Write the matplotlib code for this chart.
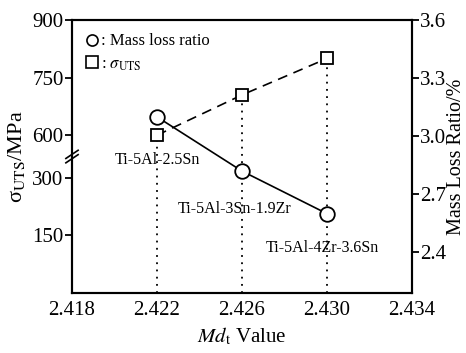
import matplotlib
matplotlib.use("Agg")
import matplotlib.pyplot as plt
from matplotlib.lines import Line2D

plt.rcParams['font.family'] = ['Liberation Serif', 'DejaVu Serif']
plt.rcParams['mathtext.fontset'] = 'stix'

# Data
md_values = [2.422, 2.426, 2.430]
uts_mpa = [600, 705, 800]
mass_loss = [3.10, 2.82, 2.60]
alloys = ["Ti-5Al-2.5Sn", "Ti-5Al-3Sn-1.9Zr", "Ti-5Al-4Zr-3.6Sn"]
x_ticks = [2.418, 2.422, 2.426, 2.430, 2.434]
left_ticks = [150, 300, 600, 750, 900]
right_ticks = [2.4, 2.7, 3.0, 3.3, 3.6]

# broken left axis mapping (0-300 and 600-900)
BREAK_LO, BREAK_HI, GAP = 300, 600, 111
def fwd(v):
    return v if v <= BREAK_LO else v - BREAK_HI + BREAK_LO + GAP

fig = plt.figure(figsize=(4.66, 3.53), dpi=100)
ax1 = fig.add_axes([0.1545, 0.170, 0.7295, 0.773])
ax2 = ax1.twinx()

ax1.set_xlim(2.418, 2.434)
ax1.set_ylim(0, fwd(900))
ax2.set_ylim(2.19, 3.6)

lw_sp = 1.5
for ax in (ax1, ax2):
    for s in ax.spines.values():
        s.set_linewidth(lw_sp)

# dotted droplines
for x, u in zip(md_values, uts_mpa):
    ax1.plot([x, x], [0, fwd(u)], linestyle=(0, (1, 3)), color='black', lw=1.3, zorder=1)

# UTS dashed line with squares
ax1.plot(md_values, [fwd(u) for u in uts_mpa], linestyle=(0, (6, 4)), color='black', lw=1.2,
         marker='s', markersize=9, markerfacecolor='white', markeredgecolor='black',
         markeredgewidth=1.3, zorder=3, clip_on=False)

# mass loss solid line with circles
ax2.plot(md_values, mass_loss, linestyle='-', color='black', lw=1.2,
         marker='o', markersize=10.5, markerfacecolor='white', markeredgecolor='black',
         markeredgewidth=1.3, zorder=4)

# alloy labels
offsets = [(0, -31), (-5, -27), (-3, -25)]
for x, y, name, off in zip(md_values, mass_loss, alloys, offsets):
    ax2.annotate(name, xy=(x, y), xytext=off, textcoords='offset points',
                 ha='center', va='center', fontsize=11.5)

ax1.set_xticks(x_ticks)
ax1.set_xticklabels([f"{v:.3f}" for v in x_ticks])
ax1.set_yticks([fwd(v) for v in left_ticks])
ax1.set_yticklabels([str(v) for v in left_ticks])
ax2.set_yticks(right_ticks)
ax2.set_yticklabels([f"{v:.1f}" for v in right_ticks])

ax1.tick_params(axis='x', length=0, labelsize=15, pad=6)
ax1.tick_params(axis='y', direction='out', length=5, width=1.3, labelsize=15, pad=1)
ax2.tick_params(axis='y', direction='out', length=5, width=1.3, labelsize=15, pad=1)

ax1.set_xlabel(r"$Md_{\rm t}$ Value", fontsize=15, labelpad=4)
ax1.set_ylabel(r"σ$_{\rm UTS}$/MPa", fontsize=16, labelpad=4)
ax2.set_ylabel("Mass Loss Ratio/%", fontsize=14.5, labelpad=0)

# axis break marks
yb = (fwd(BREAK_LO) + GAP / 2) / fwd(900)
for dy in (-0.008, 0.008):
    ax1.plot([-0.018, 0.018], [yb + dy - 0.015, yb + dy + 0.015], transform=ax1.transAxes,
             color='black', lw=1.2, clip_on=False, zorder=5)

# legend
handles = [Line2D([], [], linestyle='none', marker='o', markersize=8, markerfacecolor='white',
                  markeredgecolor='black', markeredgewidth=1.2),
           Line2D([], [], linestyle='none', marker='s', markersize=8, markerfacecolor='white',
                  markeredgecolor='black', markeredgewidth=1.2)]
ax2.legend(handles, [": Mass loss ratio", r": $\sigma_{\rm UTS}$"], loc='upper left',
           frameon=False, fontsize=12, handlelength=0.8, handletextpad=0.15,
           borderaxespad=0.6, labelspacing=0.4, borderpad=0.2)

fig.savefig("out.png", dpi=100)
